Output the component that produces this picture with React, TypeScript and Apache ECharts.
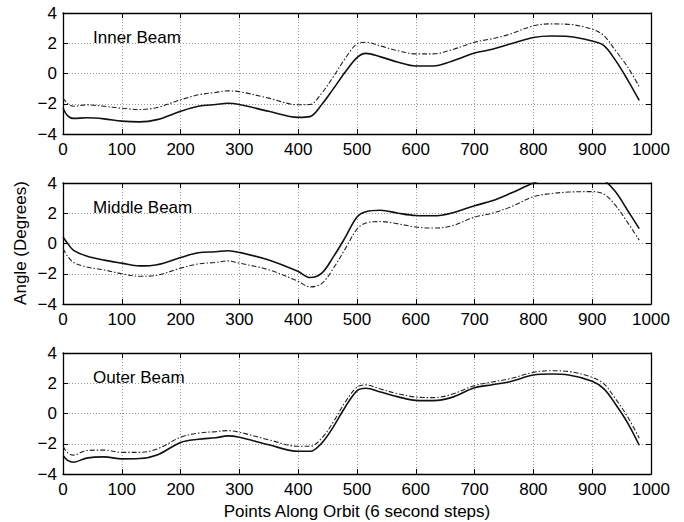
import React, { useEffect, useRef } from "react";
import * as echarts from "echarts";

// Sample positions along the orbit (shared by all three beams)
const orbitPoints = [
  0, 8, 18, 40, 70, 100, 130, 160, 200, 230, 260, 280, 300, 350, 400, 420, 440,
  460, 480, 500, 515, 540, 570, 600, 630, 660, 700, 730, 760, 800, 830, 860, 900,
  920, 940, 960, 980,
];

// Angle (degrees) for each beam: solid trace and dash-dot trace
const innerSolid = [
  -2.3, -2.8, -2.97, -2.93, -3.0, -3.15, -3.2, -3.05, -2.5, -2.17, -2.05, -1.97,
  -2.05, -2.5, -2.9, -2.85, -2.05, -1.0, 0.1, 1.05, 1.33, 1.1, 0.75, 0.5, 0.5, 0.8,
  1.35, 1.6, 1.95, 2.38, 2.48, 2.45, 2.15, 1.85, 0.85, -0.4, -1.78,
];
const innerDash = [
  -1.6, -2.0, -2.17, -2.07, -2.17, -2.3, -2.38, -2.25, -1.74, -1.41, -1.25, -1.15,
  -1.2, -1.63, -2.07, -2.05, -1.3, -0.2, 1.0, 1.96, 2.07, 1.82, 1.5, 1.3, 1.3, 1.55,
  2.07, 2.3, 2.6, 3.15, 3.28, 3.25, 2.93, 2.5, 1.5, 0.45, -0.87,
];
const middleSolid = [
  0.43, 0.0, -0.45, -0.82, -1.1, -1.3, -1.48, -1.4, -0.93, -0.61, -0.55, -0.48,
  -0.59, -1.09, -1.85, -2.25, -1.96, -0.87, 0.4, 1.75, 2.1, 2.2, 2.0, 1.85, 1.83,
  2.0, 2.5, 2.83, 3.3, 4.0, 4.4, 4.6, 4.6, 4.2, 3.4, 2.2, 0.98,
];
const middleDash = [
  -0.33, -0.85, -1.25, -1.55, -1.75, -2.0, -2.17, -2.1, -1.63, -1.35, -1.25, -1.15,
  -1.3, -1.74, -2.5, -2.87, -2.65, -1.63, -0.35, 0.95, 1.35, 1.45, 1.3, 1.09, 1.02,
  1.15, 1.74, 2.0, 2.4, 3.09, 3.3, 3.4, 3.43, 3.26, 2.5, 1.4, 0.22,
];
const outerSolid = [
  -2.78, -3.1, -3.22, -2.95, -2.87, -3.0, -2.98, -2.75, -1.91, -1.7, -1.6, -1.48,
  -1.57, -2.07, -2.5, -2.5, -1.96, -0.87, 0.43, 1.5, 1.67, 1.42, 1.1, 0.87, 0.85,
  1.05, 1.7, 1.9, 2.1, 2.54, 2.61, 2.55, 2.13, 1.63, 0.6, -0.6, -2.1,
];
const outerDash = [
  -2.17, -2.6, -2.75, -2.45, -2.42, -2.57, -2.57, -2.35, -1.57, -1.3, -1.2, -1.13,
  -1.24, -1.74, -2.17, -2.17, -1.63, -0.54, 0.76, 1.74, 1.89, 1.62, 1.3, 1.09, 1.05,
  1.25, 1.85, 2.08, 2.3, 2.72, 2.83, 2.78, 2.39, 1.96, 0.95, -0.2, -1.63,
];

const panelTitles = ["Inner Beam", "Middle Beam", "Outer Beam"];
const yAxisTitle = "Angle (Degrees)";
const xAxisTitle = "Points Along Orbit (6 second steps)";

const FONT = "'Liberation Sans', Arial, Helvetica, sans-serif";
const FONT_SIZE = 17;
const PLOT_LEFT = 63;
const PLOT_RIGHT = 33;
const PLOT_HEIGHT = 121;
const PLOT_TOPS = [13, 183, 353];

const pair = (ys: number[]) => orbitPoints.map((x, i) => [x, ys[i]]);

export default function App() {
  const ref = useRef<HTMLDivElement>(null);

  useEffect(() => {
    if (!ref.current) return;
    const chart = echarts.init(ref.current, undefined, { renderer: "svg" });

    const panels = [
      [innerSolid, innerDash],
      [middleSolid, middleDash],
      [outerSolid, outerDash],
    ];

    const grid = PLOT_TOPS.map((top) => ({
      left: PLOT_LEFT,
      right: PLOT_RIGHT,
      top,
      height: PLOT_HEIGHT,
      containLabel: false,
    }));

    const tick = { show: true, inside: true, length: 5, lineStyle: { color: "#000", width: 1 } };
    const labelStyle = { color: "#000", fontSize: FONT_SIZE, fontFamily: FONT };
    const dotted = { show: true, lineStyle: { color: "#9a9a9a", width: 1, type: [1, 2] as number[] } };
    const frame = { show: true, onZero: false, lineStyle: { color: "#000", width: 1.3 } };

    const xAxis: any[] = [];
    const yAxis: any[] = [];
    PLOT_TOPS.forEach((_, g) => {
      xAxis.push({
        type: "value", gridIndex: g, position: "bottom", min: 0, max: 1000, interval: 100,
        axisLine: frame, axisTick: tick, splitLine: dotted,
        axisLabel: { ...labelStyle, margin: 7, formatter: (v: number) => String(v) },
      });
      xAxis.push({
        type: "value", gridIndex: g, position: "top", min: 0, max: 1000, interval: 100,
        axisLine: frame, axisTick: tick, splitLine: { show: false }, axisLabel: { show: false },
      });
      yAxis.push({
        type: "value", gridIndex: g, position: "left", min: -4, max: 4, interval: 2,
        axisLine: frame, axisTick: tick, splitLine: dotted,
        axisLabel: {
          ...labelStyle, margin: 6,
          formatter: (v: number) => String(v).replace("-", "\u2212"),
        },
      });
      yAxis.push({
        type: "value", gridIndex: g, position: "right", min: -4, max: 4, interval: 2,
        axisLine: frame, axisTick: tick, splitLine: { show: false }, axisLabel: { show: false },
      });
    });

    const series: any[] = [];
    panels.forEach(([solid, dash], g) => {
      series.push({
        type: "line", xAxisIndex: g * 2, yAxisIndex: g * 2, data: pair(solid),
        smooth: 0.35, showSymbol: false, clip: true,
        lineStyle: { color: "#111", width: 1.6 },
      });
      series.push({
        type: "line", xAxisIndex: g * 2, yAxisIndex: g * 2, data: pair(dash),
        smooth: 0.35, showSymbol: false, clip: true,
        lineStyle: { color: "#222", width: 1.1, type: [5, 2, 1.5, 2] },
      });
    });

    const graphic: any[] = panelTitles.map((t, g) => ({
      type: "text",
      x: 93,
      y: PLOT_TOPS[g] + 24,
      style: { text: t, fill: "#000", font: `${FONT_SIZE}px ${FONT}`, verticalAlign: "middle" },
    }));
    graphic.push({
      type: "text",
      x: 20,
      y: 243,
      rotation: Math.PI / 2,
      style: { text: yAxisTitle, fill: "#000", font: `${FONT_SIZE}px ${FONT}`, align: "center", verticalAlign: "middle" },
    });
    graphic.push({
      type: "text",
      x: 357,
      y: 511,
      style: { text: xAxisTitle, fill: "#000", font: `${FONT_SIZE}px ${FONT}`, align: "center", verticalAlign: "middle" },
    });

    chart.setOption({
      animation: false,
      backgroundColor: "#fff",
      grid,
      xAxis,
      yAxis,
      series,
      graphic,
    });

    return () => chart.dispose();
  }, []);

  return (
    <div
      ref={ref}
      style={{ position: "absolute", left: 0, top: 0, width: 684, height: 522 }}
    />
  );
}
